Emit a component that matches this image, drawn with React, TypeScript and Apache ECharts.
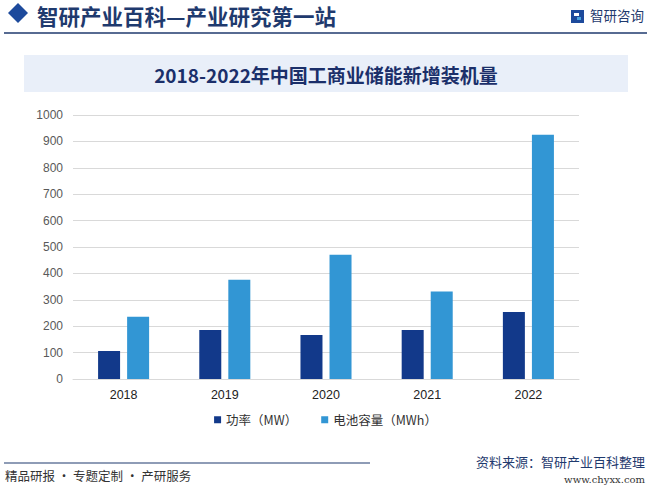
import React, { useEffect, useRef } from "react";
import * as echarts from "echarts";

const years = ["2018", "2019", "2020", "2021", "2022"];
const powerMW = [106, 186, 167, 186, 254];
const capacityMWh = [236, 376, 471, 331, 925];
const seriesNames = ["功率（MW）", "电池容量（MWh）"];
const yTicks = { min: 0, max: 1000, interval: 100 };

const headerText = "智研产业百科—产业研究第一站";
const chartTitle = "2018-2022年中国工商业储能新增装机量";
const brandText = "智研咨询";
const footerLeft = "精品研报 · 专题定制 · 产研服务";
const footerSource = "资料来源：智研产业百科整理";
const footerUrl = "www.chyxx.com";

export default function App() {
  const ref = useRef<HTMLDivElement>(null);
  useEffect(() => {
    if (!ref.current) return;
    const chart = echarts.init(ref.current, null, { renderer: "svg" });
    const cjk = '"Noto Sans CJK SC", "Noto Sans", sans-serif';
    chart.setOption({
      animation: false,
      backgroundColor: "#ffffff",
      textStyle: { fontFamily: cjk },
      grid: { left: 73, right: 72, top: 115, bottom: 112, containLabel: false },
      legend: {
        data: seriesNames,
        bottom: 60,
        left: "center",
        itemWidth: 7,
        itemHeight: 7,
        itemGap: 24,
        icon: "rect",
        textStyle: { fontSize: 12.5, color: "#333", fontFamily: cjk },
      },
      xAxis: {
        type: "category",
        data: years,
        axisLine: { show: true, lineStyle: { color: "#d9d9d9" } },
        axisTick: { show: false },
        axisLabel: { color: "#222", fontSize: 12.5, margin: 9, fontFamily: "Arial, Liberation Sans, sans-serif" },
      },
      yAxis: {
        type: "value",
        min: yTicks.min,
        max: yTicks.max,
        interval: yTicks.interval,
        axisLine: { show: false },
        axisTick: { show: false },
        splitLine: { lineStyle: { color: "#d9d9d9" } },
        axisLabel: {
          color: "#595959",
          fontSize: 12,
          margin: 10,
          fontFamily: "Arial, Liberation Sans, sans-serif",
          formatter: (v: number) => String(v),
        },
      },
      series: [
        {
          name: seriesNames[0],
          type: "bar",
          data: powerMW,
          barWidth: 22,
          barGap: "32%",
          itemStyle: { color: "#12398a" },
        },
        {
          name: seriesNames[1],
          type: "bar",
          data: capacityMWh,
          barWidth: 22,
          itemStyle: { color: "#3296d4" },
        },
      ],
      graphic: [
        // header diamond
        {
          type: "polygon",
          shape: { points: [[18, 3], [28, 13], [18, 23], [8, 13]] },
          style: { fill: "#1d4a9c" },
        },
        {
          type: "text",
          x: 37,
          y: 15,
          style: {
            text: headerText,
            fill: "#1f3a6e",
            font: `bold 21.5px ${cjk}`,
            verticalAlign: "middle",
            lineHeight: 22,
          },
        },
        {
          type: "line",
          shape: { x1: 4, y1: 33, x2: 647, y2: 33 },
          style: { stroke: "#1f3a6e", lineWidth: 1.5 },
        },
        // brand logo
        {
          type: "rect",
          shape: { x: 571, y: 10, width: 13, height: 13 },
          style: { fill: "#1d4a9c" },
        },
        {
          type: "rect",
          shape: { x: 574, y: 13, width: 5, height: 3 },
          style: { fill: "#ffffff" },
        },
        {
          type: "rect",
          shape: { x: 577, y: 17, width: 4, height: 3 },
          style: { fill: "#4aa3df" },
        },
        {
          type: "text",
          left: 590,
          top: 8,
          style: { text: brandText, fill: "#1f3a6e", font: `13.5px ${cjk}` },
        },
        // title box
        {
          type: "rect",
          shape: { x: 24, y: 55, width: 604, height: 37 },
          style: { fill: "#e9eff9" },
        },
        {
          type: "text",
          x: 326,
          y: 74,
          style: {
            text: chartTitle,
            fill: "#1b2f6a",
            font: `bold 19px ${cjk}`,
            align: "center",
            verticalAlign: "middle",
          },
        },
        // footer
        {
          type: "line",
          shape: { x1: 4, y1: 463, x2: 370, y2: 463 },
          style: { stroke: "#1f3a6e", lineWidth: 1.2 },
        },
        {
          type: "text",
          left: 5,
          top: 469,
          style: { text: footerLeft, fill: "#333", font: `12.5px ${cjk}` },
        },
        {
          type: "text",
          right: 6,
          top: 455,
          style: { text: footerSource, fill: "#1f3a6e", font: `13px ${cjk}` },
        },
        {
          type: "text",
          right: 6,
          top: 474,
          style: { text: footerUrl, fill: "#333", font: `10px "DejaVu Serif", serif` },
        },
      ],
    });
    return () => chart.dispose();
  }, []);
  return (
    <div
      ref={ref}
      style={{ position: "fixed", left: 0, top: 0, width: 651, height: 491 }}
    />
  );
}
